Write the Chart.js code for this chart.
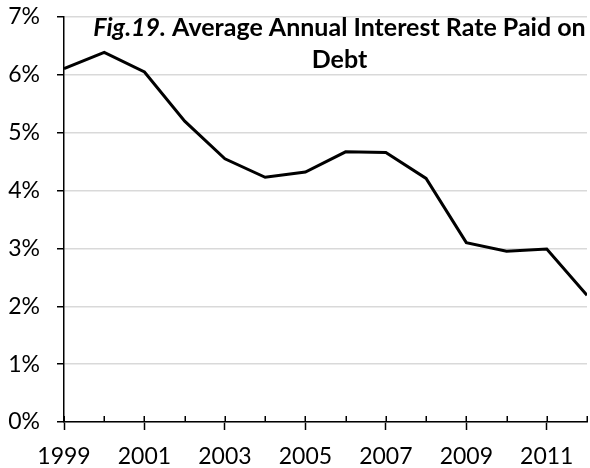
<!DOCTYPE html>
<html>
<head>
<meta charset="utf-8">
<script src="https://cdn.jsdelivr.net/npm/chart.js@4/dist/chart.umd.min.js"></script>
<style>
  html, body { margin: 0; padding: 0; background: #ffffff; }
  #wrap { position: relative; width: 590px; height: 468px; }
</style>
</head>
<body>
<div id="wrap"><canvas id="c" width="590" height="468"></canvas></div>
<script>
// ---- data ----
const years = [1999, 2000, 2001, 2002, 2003, 2004, 2005, 2006, 2007, 2008, 2009, 2010, 2011, 2012];
const rates = [6.11, 6.39, 6.05, 5.20, 4.55, 4.23, 4.32, 4.67, 4.66, 4.21, 3.10, 2.95, 2.99, 2.19];
const yTicks = [0, 1, 2, 3, 4, 5, 6, 7];
const labeledYears = [1999, 2001, 2003, 2005, 2007, 2009, 2011];
const titleItalic = "Fig.19.";
const titleLine1 = " Average Annual Interest Rate Paid on";
const titleLine2 = "Debt";

const FONT = "Lato, 'Open Sans', sans-serif";

const titlePlugin = {
  id: 'figTitle',
  afterDraw(chart) {
    const ctx = chart.ctx;
    const a = chart.chartArea;
    const cx = (a.left + a.right) / 2 + 14;
    ctx.save();
    ctx.fillStyle = '#000';
    ctx.textBaseline = 'alphabetic';
    ctx.textAlign = 'left';
    const fItal = "italic bold 25px " + FONT;
    const fBold = "bold 25px " + FONT;
    ctx.font = fItal;
    const w1 = ctx.measureText(titleItalic).width;
    ctx.font = fBold;
    const w2 = ctx.measureText(titleLine1).width;
    const x0 = cx - (w1 + w2) / 2;
    const y1 = a.top + 19;
    ctx.font = fItal;
    ctx.fillText(titleItalic, x0, y1);
    ctx.font = fBold;
    ctx.fillText(titleLine1, x0 + w1, y1);
    ctx.textAlign = 'center';
    ctx.fillText(titleLine2, cx, y1 + 32);
    ctx.restore();
  }
};

const minorTicks = {
  id: 'minorTicks',
  afterDraw(chart) {
    const ctx = chart.ctx;
    const xs = chart.scales.x;
    const bottom = chart.chartArea.bottom;
    ctx.save();
    ctx.strokeStyle = '#000';
    ctx.lineWidth = 1.5;
    ctx.beginPath();
    years.forEach(yr => {
      const px = Math.round(xs.getPixelForValue(yr)) + 0.25;
      ctx.moveTo(px, bottom - 6);
      ctx.lineTo(px, bottom);
    });
    ctx.stroke();
    ctx.restore();
  }
};

new Chart(document.getElementById('c'), {
  type: 'line',
  data: {
    datasets: [{
      data: years.map((y, i) => ({ x: y, y: rates[i] })),
      borderColor: '#000000',
      borderWidth: 3,
      pointRadius: 0,
      tension: 0,
      fill: false
    }]
  },
  options: {
    responsive: false,
    animation: false,
    layout: { padding: { top: 17, right: 3, left: 0, bottom: 0 } },
    plugins: { legend: { display: false }, tooltip: { enabled: false }, title: { display: false } },
    scales: {
      x: {
        type: 'linear',
        min: years[0],
        max: years[years.length - 1],
        afterBuildTicks(scale) { scale.ticks = years.map(v => ({ value: v })); },
        afterFit(scale) { scale.height = 46; scale.paddingLeft = 0; scale.paddingRight = 0; },
        border: { color: '#000', width: 1.5 },
        grid: {
          drawOnChartArea: false,
          drawTicks: true,
          tickLength: 8,
          tickWidth: 1.5,
          tickColor: (c) => (c.tick && labeledYears.includes(c.tick.value)) ? '#000' : 'rgba(0,0,0,0)'
        },
        ticks: {
          autoSkip: false,
          maxRotation: 0,
          padding: 13,
          color: '#000',
          font: { family: FONT, size: 23 },
          callback: (v) => labeledYears.includes(v) ? String(v) : ''
        }
      },
      y: {
        min: 0,
        max: 7,
        afterBuildTicks(scale) { scale.ticks = yTicks.map(v => ({ value: v })); },
        afterFit(scale) { scale.width = 64; scale.paddingTop = 0; scale.paddingBottom = 0; },
        border: { color: '#000', width: 1.5 },
        grid: {
          color: '#d9d9d9',
          lineWidth: 1.5,
          drawTicks: true,
          tickLength: 7,
          tickColor: '#000',
          tickWidth: 1.5
        },
        ticks: {
          padding: 17,
          color: '#000',
          font: { family: FONT, size: 23 },
          callback: (v) => v + '%'
        }
      }
    }
  },
  plugins: [titlePlugin, minorTicks]
});
</script>
</body>
</html>
